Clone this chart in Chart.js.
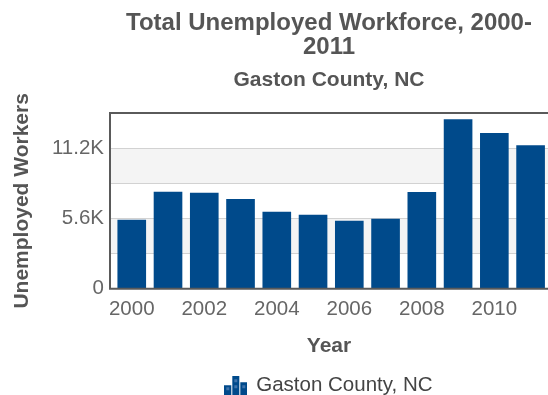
<!DOCTYPE html>
<html>
<head>
<meta charset="utf-8">
<script src="https://cdn.jsdelivr.net/npm/chart.js@4"></script>
<style>
  html, body { margin: 0; padding: 0; background: #fff; overflow: hidden; }
</style>
</head>
<body>
<canvas id="chart" width="548" height="395"></canvas>
<script>
const years = [2000, 2001, 2002, 2003, 2004, 2005, 2006, 2007, 2008, 2009, 2010, 2011];
const unemployed = [5500, 7720, 7650, 7140, 6130, 5890, 5420, 5570, 7700, 13510, 12400, 11440];
const seriesName = 'Gaston County, NC';

const fontFamily = '"Liberation Sans", Arial, sans-serif';
const barColor = '#004a8b';

// little bar-chart glyph used as legend symbol
function legendIcon() {
	const c = document.createElement('canvas');
	c.width = 23;
	c.height = 19;
	const g = c.getContext('2d');
	g.fillStyle = barColor;
	g.fillRect(0, 9, 7, 10);
	g.fillRect(8, 0, 7, 19);
	g.fillRect(16, 6, 7, 13);
	g.fillStyle = '#3f73ab';
	g.fillRect(2, 11, 3, 3);
	g.fillRect(10, 3, 3, 3);
	g.fillRect(10, 9, 3, 3);
	g.fillRect(18, 9, 3, 3);
	return c;
}

const plotFrame = {
	id: 'plotFrame',
	beforeDraw(chart) {
		const {ctx, chartArea} = chart;
		const y = chart.scales.y;
		ctx.save();
		ctx.fillStyle = '#f4f4f4';
		y.ticks.forEach((t, i) => {
			if (i % 2 === 1 && i + 1 < y.ticks.length) {
				const top = y.getPixelForValue(y.ticks[i + 1].value);
				const bottom = y.getPixelForValue(t.value);
				ctx.fillRect(chartArea.left, top, chartArea.right - chartArea.left, bottom - top);
			}
		});
		ctx.restore();
	},
	afterDatasetsDraw(chart) {
		const {ctx, chartArea} = chart;
		ctx.save();
		ctx.strokeStyle = '#5a5a5a';
		ctx.lineWidth = 2;
		ctx.beginPath();
		ctx.moveTo(chartArea.right + 2, chartArea.top);
		ctx.lineTo(chartArea.left, chartArea.top);
		ctx.lineTo(chartArea.left, chartArea.bottom);
		ctx.lineTo(chartArea.right + 2, chartArea.bottom);
		ctx.stroke();
		ctx.restore();
	}
};

const ctx = document.querySelector('#chart');
let chart = new Chart(ctx, {
	type: 'bar',
	data: {
		labels: years,
		datasets: [{
			label: seriesName,
			data: unemployed,
			backgroundColor: barColor,
			borderWidth: 0,
			categoryPercentage: 1,
			barPercentage: 0.79,
			pointStyle: legendIcon()
		}]
	},
	options: {
		responsive: false,
		animation: false,
		// legend keeps 10px of dead space under itself, push it off the canvas
		layout: { padding: { bottom: -11 } },
		scales: {
			x: {
				type: 'linear',
				offset: false,
				min: 1999.4,
				max: 2011.48,
				grid: { display: false, drawTicks: false },
				border: { display: false },
				ticks: {
					stepSize: 2,
					includeBounds: false,
					padding: 8,
					color: '#666',
					font: { family: fontFamily, size: 20.5 },
					callback: v => String(v)
				},
				title: {
					display: true,
					text: 'Year',
					color: '#555',
					font: { family: fontFamily, size: 21, weight: 'bold' },
					padding: { top: 4, bottom: 17 }
				}
			},
			y: {
				min: 0,
				max: 14000,
				afterFit: s => { s.width = 110; },
				grid: { color: '#d2d2d2', drawTicks: false },
				border: { display: false },
				ticks: {
					stepSize: 2800,
					padding: 6,
					color: '#666',
					font: { family: fontFamily, size: 20.5 },
					callback: v => v % 5600 !== 0 ? '' : (v === 0 ? '0' : (v / 1000).toFixed(1) + 'K')
				},
				title: {
					display: true,
					text: 'Unemployed Workers',
					color: '#555',
					font: { family: fontFamily, size: 21, weight: 'bold' },
					padding: { top: 9.4, bottom: 0 }
				}
			}
		},
		plugins: {
			title: {
				display: true,
				fullSize: false,
				text: ['Total Unemployed Workforce, 2000-', '2011'],
				color: '#555',
				font: { family: fontFamily, size: 24, weight: 'bold', lineHeight: 0.975 },
				padding: { top: 12, bottom: 0 }
			},
			subtitle: {
				display: true,
				fullSize: false,
				text: 'Gaston County, NC',
				color: '#555',
				font: { family: fontFamily, size: 21, weight: 'bold', lineHeight: 1.2 },
				padding: { top: 8.6, bottom: 20.4 }
			},
			legend: {
				position: 'bottom',
				fullSize: false,
				labels: {
					usePointStyle: true,
					color: '#444',
					font: { family: fontFamily, size: 20.5 },
					padding: 0
				}
			},
			tooltip: { enabled: false }
		}
	},
	plugins: [plotFrame]
});
</script>
</body>
</html>
